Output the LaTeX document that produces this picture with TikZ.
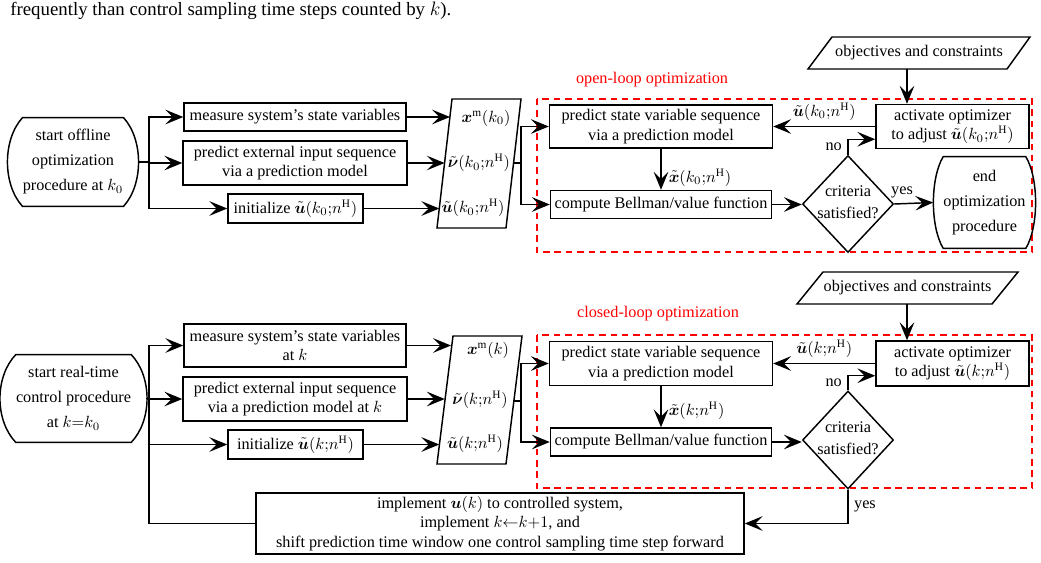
\documentclass[tikz,border=0pt]{standalone}
\usepackage{amsmath,bm}
\usepackage{fontspec}
\setmainfont{Liberation Serif}
\usetikzlibrary{arrows.meta,calc,shapes.geometric}
\newcommand\termdraw[2]{\draw[ln] (#1.north west) .. controls ($(#1.north west)+(-#2,22)$) and ($(#1.south west)+(-#2,-22)$) .. (#1.south west) -- (#1.south east) .. controls ($(#1.south east)+(#2,-22)$) and ($(#1.north east)+(#2,22)$) .. (#1.north east) -- cycle;}
\newcommand\sq{\mathord{;}}
\tikzset{
  ln/.style={line width=0.9pt},
  arr/.style={ln, -{Stealth[length=11pt,width=9pt,inset=4.5pt]}},
  box/.style={draw, ln, align=center, inner sep=2pt},
  sz/.style 2 args={minimum width=#1*0.616pt, minimum height=#2*0.616pt},
  term/.style={align=center, inner sep=0pt},
  dia/.style={draw, ln, shape=diamond, inner sep=0pt},
  dashbox/.style={draw=red, line width=0.9pt, dash pattern=on 4pt off 3pt},
  redlbl/.style={text=red},
  lbl/.style={inner sep=2pt}
}
\begin{document}
\begin{tikzpicture}[x=0.616pt,y=-0.616pt]
\useasboundingbox (0,0) rectangle (1041,562);
\node[anchor=base west, inner sep=0pt, font=\fontsize{11.6}{14}\selectfont] (cap) at (10,15) {frequently than control sampling time steps counted by $k$).};

% ---------------- top: open-loop ----------------
\node[term, sz={100}{88}] (s1) at (73,162) {start offline\\[3.4pt]optimization\\[3.4pt]procedure at $k_0$};
\termdraw{s1}{20}
\node[box, sz={222}{28}] (m1) at (295,117) {measure system's state variables};
\node[box, sz={224}{44}] (p1) at (295,163) {predict external input sequence\\via a prediction model};
\node[box, sz={135}{29}] (i1) at (295.5,208.5) {initialize $\tilde{\bm{u}}(k_0\sq n^{\mathrm{H}})$};
\coordinate (br1) at (149,162);
\draw[ln] ($(s1.east)+(14,0)$) -- (br1);
\draw[arr] (br1) |- (m1.west);
\draw[arr] (br1) |- (p1.west);
\draw[arr] (br1) |- (i1.west);

\draw[ln] (437,228) -- (452,99) -- (521,99) -- (506,228) -- cycle;
\node[lbl] (xm1) at (486,118) {$\bm{x}^{\mathrm{m}}(k_0)$};
\node[lbl] (nu1) at (479,163) {$\tilde{\bm{\nu}}(k_0\sq n^{\mathrm{H}})$};
\node[lbl] (ut1) at (473,208) {$\tilde{\bm{u}}(k_0\sq n^{\mathrm{H}})$};
\coordinate (a1) at (450,117);
\coordinate (a2) at (444.6,163);
\coordinate (a3) at (439.3,208.5);
\draw[arr] (m1.east) -- (a1);
\draw[arr] (p1.east) -- (a2);
\draw[arr] (i1.east) -- (a3);
\coordinate (P1r) at (513.6,163);
\coordinate (j1) at (521,163);
\draw[ln] (P1r) -- (j1);

\draw[dashbox] (537,99) rectangle (1032,252);
\node[redlbl] (ol) at (652,80) {open-loop optimization};
\node[box, sz={223}{43}] (ps1) at (661,126.5) {predict state variable sequence\\via a prediction model};
\node[box, sz={221}{28}] (cb1) at (661,204.5) {compute Bellman/value function};
\draw[arr] (j1) |- (ps1.west);
\draw[arr] (j1) |- (cb1.west);
\draw[arr] (ps1.south) -- (cb1.north) node[pos=0.7, right=1pt] (xl1) {$\tilde{\bm{x}}(k_0\sq n^{\mathrm{H}})$};
\node[box, sz={153}{44}] (act1) at (952.5,126.5) {activate optimizer\\to adjust $\tilde{\bm{u}}(k_0\sq n^{\mathrm{H}})$};
\draw[arr] (act1.west) -- (ps1.east) node[midway, above] (ul1) {$\tilde{\bm{u}}(k_0\sq n^{\mathrm{H}})$};
\node[inner sep=0pt] (ob1) at (919,53) {objectives and constraints};
\draw[ln] (808,69) -- (832,37) -- (1030,37) -- (1007,69) -- cycle;
\coordinate (ob1b) at (907,69);
\draw[arr] (ob1b) -- (ob1b |- act1.north);
\node[dia, sz={91}{97}] (d1) at (848,204) {};
\node[align=center, inner sep=0pt] (d1t) at (848,202) {criteria\\[1.5pt]satisfied?};
\draw[arr] (cb1.east) -- (cb1.east -| d1.west);
\draw[arr] (d1.north) |- ($(act1.south west)+(0,-10)$) node[pos=0.25, left] (no1) {no};
\node[term, sz={71}{91}] (e1) at (984.5,202.5) {end\\[3.4pt]optimization\\[3.4pt]procedure};
\termdraw{e1}{13}
\draw[arr] (d1.east) -- ($(e1.west)+(-10,0)$) node[pos=0.2, above] (yes1) {yes};

% ---------------- bottom: closed-loop ----------------
\node[term, sz={97}{87}] (s2) at (73.5,398.5) {start real-time\\[3.4pt]control procedure\\[3.4pt]at $k{=}k_0$};
\termdraw{s2}{21}
\node[box, sz={222}{43}] (m2) at (295,345.5) {measure system's state variables\\at $k$};
\node[box, sz={224}{44}] (p2) at (295,399) {predict external input sequence\\via a prediction model at $k$};
\node[box, sz={135}{29}] (i2) at (295.5,444.5) {initialize $\tilde{\bm{u}}(k\sq n^{\mathrm{H}})$};
\coordinate (br2) at (149,398.5);
\draw[ln] ($(s2.east)+(15,0)$) -- (br2);
\draw[arr] (br2) |- (m2.west);
\draw[arr] (br2) |- (p2.west);
\draw[arr] (br2) |- (i2.west);

\draw[ln] (437,464) -- (453,336) -- (522,336) -- (506,464) -- cycle;
\node[lbl] (xm2) at (488,350) {$\bm{x}^{\mathrm{m}}(k)$};
\node[lbl] (nu2) at (480,400) {$\tilde{\bm{\nu}}(k\sq n^{\mathrm{H}})$};
\node[lbl] (ut2) at (475,444) {$\tilde{\bm{u}}(k\sq n^{\mathrm{H}})$};
\coordinate (b1) at (451,345.5);
\coordinate (b2) at (444.8,399);
\coordinate (b3) at (439.3,444.5);
\draw[arr] (m2.east) -- (b1);
\draw[arr] (p2.east) -- (b2);
\draw[arr] (i2.east) -- (b3);
\coordinate (P2r) at (513.8,401);
\coordinate (j2) at (521,401);
\draw[ln] (P2r) -- (j2);

\draw[dashbox] (537,335) rectangle (1032,488);
\node[redlbl] (cl) at (658,314) {closed-loop optimization};
\node[box, sz={223}{44}] (ps2) at (661,363.5) {predict state variable sequence\\via a prediction model};
\node[box, sz={221}{28}] (cb2) at (661,442) {compute Bellman/value function};
\draw[arr] (j2) |- (ps2.west);
\draw[arr] (j2) |- (cb2.west);
\draw[arr] (ps2.south) -- (cb2.north) node[pos=0.6, right=1pt] (xl2) {$\tilde{\bm{x}}(k\sq n^{\mathrm{H}})$};
\node[box, sz={153}{45}] (act2) at (952.5,363.5) {activate optimizer\\to adjust $\tilde{\bm{u}}(k\sq n^{\mathrm{H}})$};
\draw[arr] (act2.west) -- (ps2.east) node[midway, above] (ul2) {$\tilde{\bm{u}}(k\sq n^{\mathrm{H}})$};
\node[inner sep=0pt] (ob2) at (907.5,288) {objectives and constraints};
\draw[ln] (797,304) -- (823,272) -- (1018,272) -- (992,304) -- cycle;
\coordinate (ob2b) at (907,304);
\draw[arr] (ob2b) -- (ob2b |- act2.north);
\node[dia, sz={91}{98}] (d2) at (848,440) {};
\node[align=center, inner sep=0pt] (d2t) at (848,438) {criteria\\[1.5pt]satisfied?};
\draw[arr] (cb2.east) -- (cb2.east -| d2.west);
\draw[arr] (d2.north) |- ($(act2.south west)+(0,-11)$) node[pos=0.25, left] (no2) {no};
\node[box, sz={488}{61}] (im) at (500,523.5) {implement $\bm{u}(k)$ to controlled system,\\implement $k{\leftarrow}k{+}1$, and\\shift prediction time window one control sampling time step forward};
\draw[arr] (d2.south) |- (im.east) node[pos=0.25, right] (yes2) {yes};
\draw[ln] (br2) |- (im.west);
\end{tikzpicture}
\end{document}
